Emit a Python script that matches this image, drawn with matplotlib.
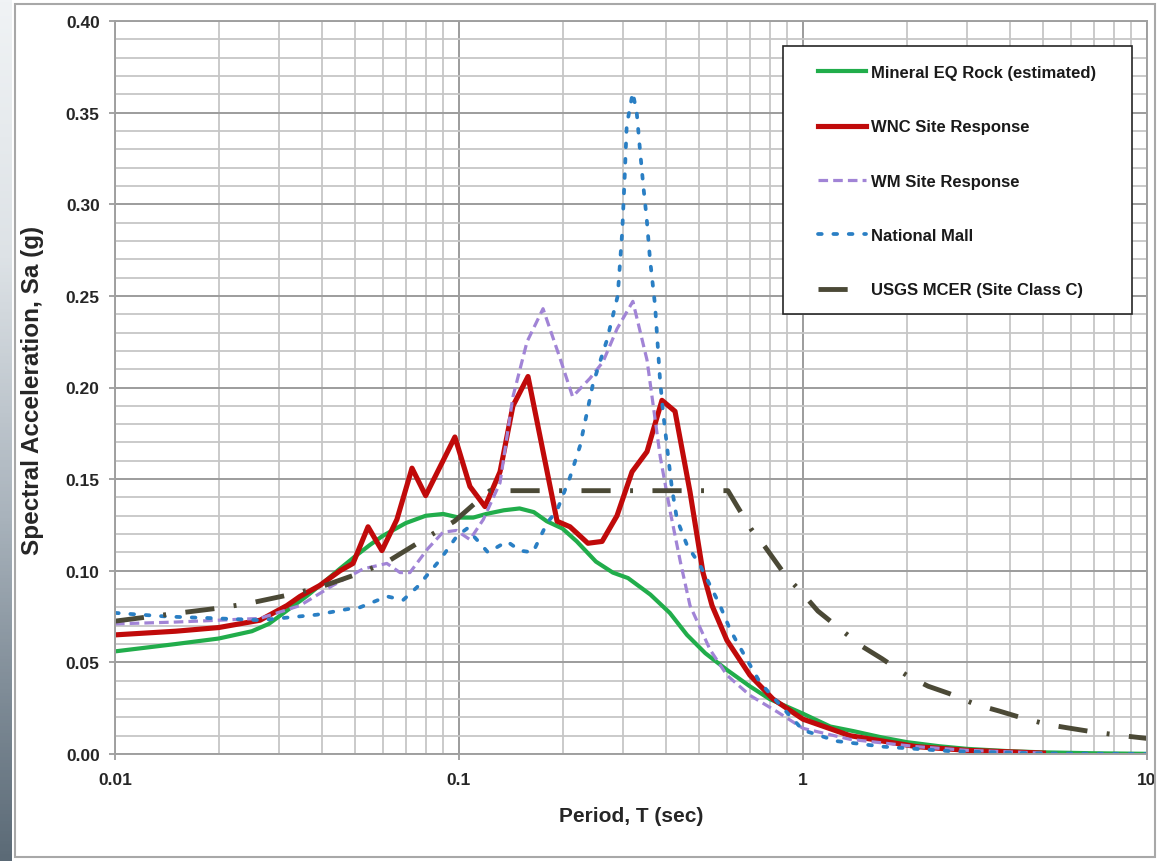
import numpy as np
import matplotlib
matplotlib.use("Agg")
import matplotlib.pyplot as plt
from matplotlib.ticker import MultipleLocator, FixedLocator, FixedFormatter, LogLocator, NullFormatter, FormatStrFormatter
from matplotlib.patches import Rectangle
from matplotlib.colors import LinearSegmentedColormap

# ---- Response spectra: period T (s) and spectral acceleration Sa (g) ----
period_rock = [0.01, 0.015, 0.02, 0.025, 0.028, 0.032, 0.036, 0.04, 0.045, 0.05, 0.055, 0.06,
               0.07, 0.08, 0.09, 0.1, 0.11, 0.12, 0.135, 0.15, 0.165, 0.18, 0.2, 0.22, 0.25,
               0.28, 0.31, 0.36, 0.41, 0.46, 0.52, 0.6, 0.7, 0.8, 1.0, 1.2, 1.4, 1.7, 2.0,
               2.5, 3.0, 4.0, 5.0, 7.0, 10.0]
sa_rock = [0.056, 0.060, 0.063, 0.067, 0.071, 0.079, 0.086, 0.093, 0.101, 0.108, 0.114, 0.119,
           0.126, 0.130, 0.131, 0.129, 0.129, 0.131, 0.133, 0.134, 0.132, 0.127, 0.123, 0.116, 0.105,
           0.099, 0.096, 0.087, 0.077, 0.065, 0.055, 0.046, 0.037, 0.030, 0.022, 0.015, 0.0125, 0.009, 0.0065,
           0.0042, 0.0028, 0.0015, 0.0009, 0.0004, 0.0001]

period_wnc = [0.01, 0.015, 0.02, 0.0264, 0.0316, 0.0345, 0.0394, 0.0451, 0.0492, 0.0544, 0.0597,
              0.066, 0.073, 0.080, 0.0973, 0.1076, 0.119, 0.1316, 0.1435, 0.1587, 0.1928, 0.2102,
              0.237, 0.2606, 0.2879, 0.3184, 0.352, 0.389, 0.4246, 0.4694, 0.512, 0.544, 0.601,
              0.701, 0.818, 1.0, 1.37, 2.14, 3.0, 5.0]
sa_wnc = [0.065, 0.067, 0.069, 0.073, 0.081, 0.086, 0.092, 0.100, 0.104, 0.124, 0.111,
          0.128, 0.156, 0.141, 0.173, 0.146, 0.135, 0.154, 0.190, 0.206, 0.127, 0.124,
          0.115, 0.116, 0.130, 0.154, 0.165, 0.193, 0.187, 0.143, 0.099, 0.081, 0.062,
          0.043, 0.030, 0.019, 0.010, 0.004, 0.002, 0.0005]

period_wm = [0.01, 0.015, 0.02, 0.0264, 0.0345, 0.043, 0.0526, 0.0617, 0.0674, 0.072, 0.0811,
             0.0898, 0.0983, 0.1076, 0.1177, 0.1316, 0.1435, 0.1577, 0.1755, 0.1966, 0.2139,
             0.2403, 0.2622, 0.288, 0.3202, 0.352, 0.3847, 0.4114, 0.4399, 0.4694, 0.5366,
             0.601, 0.701, 0.842, 1.0, 1.37, 2.14, 3.0, 5.0]
sa_wm = [0.071, 0.072, 0.073, 0.074, 0.081, 0.092, 0.101, 0.104, 0.099, 0.099, 0.112,
         0.121, 0.122, 0.117, 0.128, 0.148, 0.195, 0.225, 0.243, 0.216, 0.195,
         0.205, 0.214, 0.232, 0.247, 0.215, 0.162, 0.132, 0.105, 0.081, 0.057,
         0.043, 0.032, 0.023, 0.014, 0.008, 0.004, 0.002, 0.0005]

period_mall = [0.01, 0.0142, 0.02, 0.0264, 0.0386, 0.0472, 0.0515, 0.0618, 0.0688, 0.0755, 0.0881,
               0.0987, 0.1055, 0.1151, 0.1214, 0.1379, 0.1504, 0.164, 0.1802, 0.1928, 0.2102,
               0.2247, 0.2452, 0.2693, 0.2893, 0.2982, 0.303, 0.3073, 0.3199, 0.3286, 0.3357,
               0.3434, 0.3513, 0.3591, 0.3714, 0.3838, 0.3917, 0.4052, 0.4159, 0.4302, 0.46,
               0.502, 0.537, 0.574, 0.6135, 0.643, 0.75, 0.875, 1.0, 1.256, 1.709, 2.7, 5.0, 10.0]
sa_mall = [0.077, 0.075, 0.074, 0.073, 0.076, 0.079, 0.080, 0.086, 0.084, 0.091, 0.106,
           0.119, 0.123, 0.115, 0.110, 0.116, 0.111, 0.110, 0.126, 0.133, 0.151,
           0.168, 0.202, 0.226, 0.250, 0.285, 0.314, 0.343, 0.361, 0.350, 0.330,
           0.310, 0.292, 0.270, 0.245, 0.205, 0.187, 0.163, 0.145, 0.128, 0.114,
           0.103, 0.092, 0.081, 0.068, 0.061, 0.039, 0.025, 0.013, 0.007, 0.004, 0.0015, 0.0003, 0.0]

period_mcer = [0.01, 0.0121, 0.0147, 0.0198, 0.0242, 0.0323, 0.0394, 0.052, 0.062, 0.082, 0.097,
               0.11, 0.123, 0.2, 0.3, 0.4, 0.5, 0.605, 0.64, 0.705, 0.776, 0.893, 0.993, 1.105,
               1.306, 1.477, 1.697, 2.0, 2.31, 2.66, 3.18, 3.71, 4.28, 5.17, 6.0, 7.0, 8.5, 10.0]
sa_mcer = [0.0725, 0.0745, 0.0765, 0.0795, 0.082, 0.087, 0.091, 0.099, 0.105, 0.119, 0.127,
           0.136, 0.1437, 0.1437, 0.1437, 0.1437, 0.1437, 0.1437, 0.136, 0.123, 0.113, 0.097, 0.088, 0.078,
           0.067, 0.059, 0.052, 0.043, 0.037, 0.033, 0.027, 0.0235, 0.020, 0.016, 0.014, 0.012, 0.010, 0.0085]

series_labels = ["Mineral EQ Rock (estimated)", "WNC Site Response", "WM Site Response",
                 "National Mall", "USGS MCER (Site Class C)"]

x_ticks = [0.01, 0.1, 1, 10]
x_tick_labels = ["0.01", "0.1", "1", "10"]
x_label = "Period, T (sec)"
y_label = "Spectral Acceleration, Sa (g)"

# ---- Figure ----
plt.rcParams["font.family"] = ["Liberation Sans", "DejaVu Sans"]
plt.rcParams["font.weight"] = "bold"

W, H = 1158, 862
fig = plt.figure(figsize=(W / 100, H / 100), dpi=100)
fig.patch.set_facecolor("white")

# slate gradient strip along the left edge
strip = fig.add_axes([0, 0, 12 / W, 1])
slate = LinearSegmentedColormap.from_list(
    "slate", [(0.0, "#f0f3f5"), (0.3, "#dde2e6"), (0.6, "#a9b3bc"), (0.8, "#808d98"), (1.0, "#5b6a76")])
strip.imshow(np.linspace(0, 1, 256).reshape(-1, 1), aspect="auto", cmap=slate)
strip.axis("off")

# thin frame around the chart panel
fig.patches.append(Rectangle((14.5 / W, 4 / H), (1155 - 14.5) / W, (858 - 5) / H,
                             transform=fig.transFigure, fill=False,
                             edgecolor="#a8a8a8", linewidth=1.5))

ax = fig.add_axes([115 / W, (H - 755) / H, 1032 / W, 733 / H])
ax.set_xscale("log")
ax.set_xlim(0.01, 10)
ax.set_ylim(0, 0.40)

ax.plot(period_rock, sa_rock, color="#21ad4b", lw=3.0, label=series_labels[0])
ax.plot(period_wnc, sa_wnc, color="#c00a0a", lw=3.7, label=series_labels[1])
ax.plot(period_wm, sa_wm, color="#a184d6", lw=2.3, linestyle=(0, (3.0, 1.6)), label=series_labels[2])
ax.plot(period_mall, sa_mall, color="#2a7fc4", lw=2.7, linestyle=(0, (1.0, 3.1)),
        dash_capstyle="round", label=series_labels[3])
ax.plot(period_mcer, sa_mcer, color="#4b4936", lw=3.5, linestyle=(0, (6, 4, 0.6, 4)),
        label=series_labels[4])

# grid
ax.set_axisbelow(True)
ax.yaxis.set_major_locator(MultipleLocator(0.05))
ax.yaxis.set_minor_locator(MultipleLocator(0.01))
ax.yaxis.set_major_formatter(FormatStrFormatter("%.2f"))
ax.xaxis.set_major_locator(FixedLocator(x_ticks))
ax.xaxis.set_major_formatter(FixedFormatter(x_tick_labels))
ax.xaxis.set_minor_locator(LogLocator(base=10, subs=np.arange(2, 10)))
ax.xaxis.set_minor_formatter(NullFormatter())
ax.grid(which="major", color="#9c9c9c", linewidth=1.4)
ax.grid(which="minor", color="#c6c6c6", linewidth=1.3)

for s in ax.spines.values():
    s.set_color("#a0a0a0")
    s.set_linewidth(1.4)

ax.tick_params(which="minor", length=0)
ax.tick_params(which="major", direction="out", length=4, width=1.3, color="#9c9c9c",
               labelsize=12.5, labelcolor="#262626")
ax.tick_params(axis="y", pad=7)
ax.tick_params(axis="x", pad=9)

ax.set_xlabel(x_label, fontsize=15, fontweight="bold", color="#262626")
ax.xaxis.set_label_coords(0.5, (755 - 817) / 733)
ax.xaxis.label.set_va("center")
ax.set_ylabel(y_label, fontsize=17.5, fontweight="bold", color="#262626")
ax.yaxis.set_label_coords((32 - 115) / 1032, (755 - 390) / 733)
ax.yaxis.label.set_va("center")

# legend box
ax.add_patch(Rectangle(((783 - 115) / 1032, (755 - 315) / 733), (1132 - 783) / 1032, (315 - 47) / 733,
                       transform=ax.transAxes, facecolor="white", edgecolor="#262626",
                       linewidth=1.2, zorder=4))
leg = ax.legend(loc="upper left", bbox_to_anchor=((818 - 115) / 1032, (755 - 66) / 733),
                frameon=False, borderpad=0, borderaxespad=0, handlelength=2.9,
                handletextpad=0.3, labelspacing=2.36,
                prop={"family": "Liberation Sans", "weight": "bold", "size": 12})
leg.set_zorder(5)
for t in leg.get_texts():
    t.set_color("#1a1a1a")

fig.savefig("out.png", dpi=100)
